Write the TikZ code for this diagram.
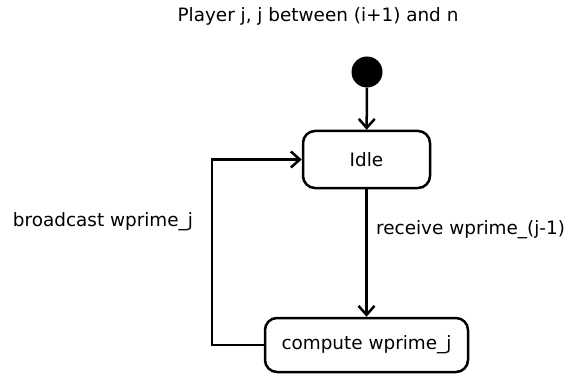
\documentclass[tikz,border=0pt]{standalone}
\usepackage{fontspec}
\setmainfont{DejaVu Sans}
\usetikzlibrary{arrows.meta}
\begin{document}
\begin{tikzpicture}[x=1pt,y=-1pt,
  state/.style={draw,line width=2.5pt,rounded corners=12pt,inner sep=0pt},
  flow/.style={line width=2.5pt,-{Straight Barb[length=9pt,width=16pt,line width=2.5pt]}},
  txt/.style={font=\fontsize{18.4}{22}\selectfont},
  lbl/.style={txt,inner sep=0pt},
]
\useasboundingbox (0,0) rectangle (565,377);
\node[lbl] (title) at (318,16) {Player j, j between (i+1) and n};
\node[circle,fill=black,minimum size=31pt,inner sep=0pt] (start) at (367,72) {};
\node[state,txt,minimum width=127pt,minimum height=57pt] (idle) at (366.5,159.5) {Idle};
\node[state,txt,minimum width=203pt,minimum height=54pt] (compute) at (366.5,345) {compute wprime\_j};
\coordinate (loop) at (212,0);
\draw[flow] (start) -- (idle);
\draw[flow] (idle) -- (compute);
\draw[flow] (compute.west) -| (loop |- compute.west) |- (idle.west);
\node[lbl,anchor=west] (recv) at (376,230) {receive wprime\_(j-1)};
\node[lbl] (bcast) at (103,222) {broadcast wprime\_j};
\end{tikzpicture}
\end{document}
